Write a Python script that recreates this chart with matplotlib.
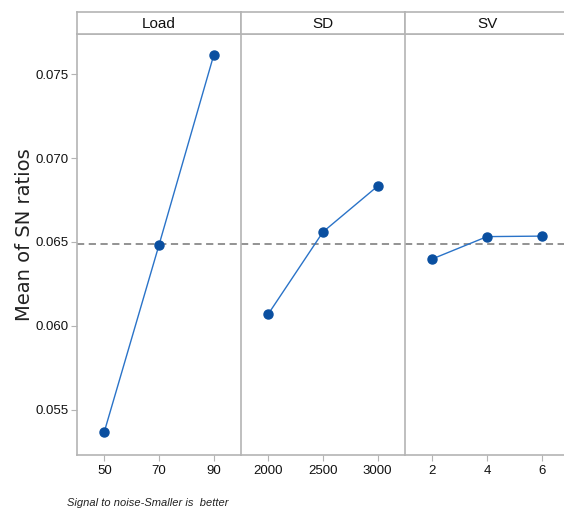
import matplotlib
matplotlib.use("Agg")
import matplotlib.pyplot as plt
from matplotlib.ticker import FixedLocator

plt.rcParams['font.family'] = ['Liberation Sans', 'DejaVu Sans']

factors = ["Load", "SD", "SV"]
load_levels = ["50", "70", "90"]
sd_levels = ["2000", "2500", "3000"]
sv_levels = ["2", "4", "6"]
load_sn = [0.05369, 0.06482, 0.07613]
sd_sn = [0.06071, 0.06560, 0.06833]
sv_sn = [0.06399, 0.06532, 0.06535]
overall_mean = 0.06488
y_ticks = [0.055, 0.060, 0.065, 0.070, 0.075]

levels = [load_levels, sd_levels, sv_levels]
values = [load_sn, sd_sn, sv_sn]

W, H = 564, 511
fig = plt.figure(figsize=(W / 100, H / 100), dpi=100)

left_px, right_px = 77, 569
top_px, head_top_px, bottom_px = 34, 12, 455
pw = (right_px - left_px) / 3
gray = "#b4b4b4"
line_col = "#2a73c8"
mk_col = "#0a4fa0"

for i, (name, lv, vals) in enumerate(zip(factors, levels, values)):
    x0 = left_px + i * pw
    ax = fig.add_axes([x0 / W, 1 - bottom_px / H, pw / W, (bottom_px - top_px) / H])
    xs = list(range(1, len(lv) + 1))
    ax.plot(xs, vals, color=line_col, lw=1.0, zorder=3)
    ax.plot(xs, vals, 'o', color=mk_col, ms=6.5, zorder=4)
    ax.axhline(overall_mean, color="#8a8a8a", ls=(0, (4, 2.5)), lw=1.3, zorder=2)
    ax.set_xlim(0.5, 3.5)
    ax.set_ylim(0.0523, 0.0774)
    ax.set_xticks(xs)
    ax.set_xticklabels(lv, fontsize=9.5, color="#111111")
    for s in ax.spines.values():
        s.set_color(gray)
        s.set_linewidth(1.2)
    ax.spines['right'].set_visible(i == 2)
    ax.tick_params(axis='x', direction='out', length=4, color=gray, pad=3)
    if i == 0:
        ax.yaxis.set_major_locator(FixedLocator(y_ticks))
        ax.set_yticklabels([f"{t:.3f}" for t in y_ticks], fontsize=9.5, color="#111111")
        ax.tick_params(axis='y', direction='out', length=4, color=gray, pad=2)
    else:
        ax.set_yticks([])
    # header strip
    hx = fig.add_axes([x0 / W, 1 - top_px / H, pw / W, (top_px - head_top_px) / H])
    hx.set_xticks([])
    hx.set_yticks([])
    for s in hx.spines.values():
        s.set_color(gray)
        s.set_linewidth(1.2)
    hx.text(0.5, 0.47, name, ha='center', va='center', fontsize=11,
            transform=hx.transAxes, color="#111111")

fig.text(25 / W, 1 - 235 / H, "Mean of SN ratios", rotation=90,
         ha='center', va='center', fontsize=14, color="#222222",
         family=['DejaVu Sans'])
fig.text(67 / W, 1 - 503 / H, "Signal to noise-Smaller is  better",
         ha='left', va='center', fontsize=8, style='italic', color="#222222")

fig.savefig("out.png", dpi=100)
